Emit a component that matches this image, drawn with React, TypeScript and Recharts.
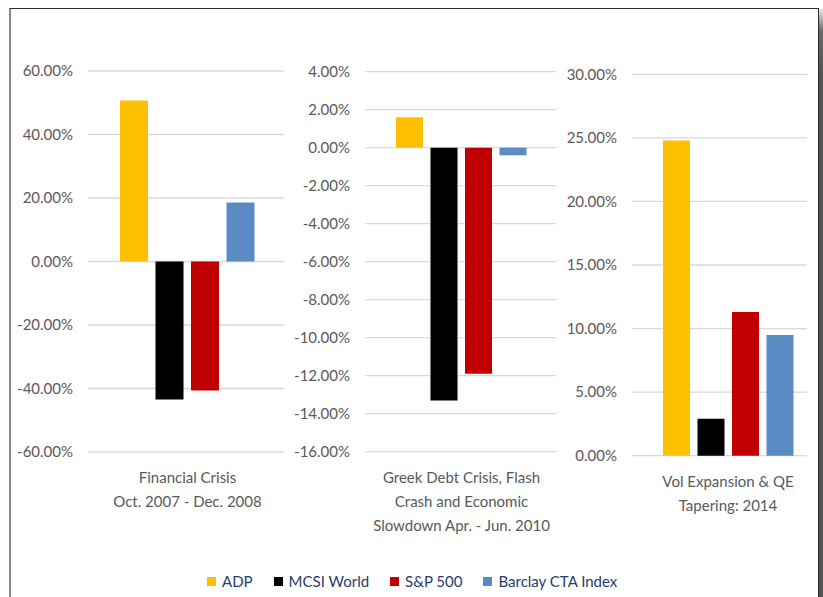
import React from "react";
import { BarChart, Bar, XAxis, YAxis, CartesianGrid } from "recharts";

const periods = [
  "Financial Crisis\nOct. 2007 - Dec. 2008",
  "Greek Debt Crisis, Flash\nCrash and Economic\nSlowdown Apr. - Jun. 2010",
  "Vol Expansion & QE\nTapering: 2014",
];
const adp = [50.7, 1.6, 24.8];
const mcsiWorld = [-43.5, -13.3, 2.9];
const sp500 = [-40.6, -11.9, 11.3];
const barclayCta = [18.6, -0.4, 9.5];

const ticksFinancial = [-60, -40, -20, 0, 20, 40, 60];
const ticksGreek = [-16, -14, -12, -10, -8, -6, -4, -2, 0, 2, 4];
const ticksVol = [0, 5, 10, 15, 20, 25, 30];
const panelTicks = [ticksFinancial, ticksGreek, ticksVol];

const seriesNames = ["ADP", "MCSI World", "S&P 500", "Barclay CTA Index"];
const seriesKeys = ["adp", "mcsi", "sp", "barclay"];
const seriesColors = ["#FFC000", "#000000", "#C00000", "#5B8BC5"];

const FONT = "Lato, 'Open Sans', sans-serif";
const TICK_COLOR = "#595959";

const panelData = periods.map((p, i) => [
  { name: p, adp: adp[i], mcsi: mcsiWorld[i], sp: sp500[i], barclay: barclayCta[i] },
]);

const layouts = [
  { left: 0, width: 300, top: 71, bottom: 452, yw: 88, right: 13, gridW: 196, barSize: 28, gap: 7.5 },
  { left: 280, width: 290, top: 71.7, bottom: 451.7, yw: 85, right: 12, gridW: 191, barSize: 27, gap: 7.5 },
  { left: 550, width: 280, top: 74.3, bottom: 455.7, yw: 82, right: 6, gridW: 175, barSize: 27, gap: 7.5 },
];

const H = 560;
const XH = 100;

function PeriodTick(props: any) {
  const { x, y, payload } = props;
  const lines = String(payload.value).split("\n");
  return (
    <text x={x} y={y} textAnchor="middle" fill={TICK_COLOR} fontSize={15} fontFamily={FONT}>
      {lines.map((l, i) => (
        <tspan key={i} x={x} y={y + 31 + i * 24}>
          {l}
        </tspan>
      ))}
    </text>
  );
}

function Panel({ idx }: { idx: number }) {
  const L = layouts[idx];
  const ticks = panelTicks[idx];
  return (
    <div style={{ position: "absolute", left: L.left, top: 0, width: L.width, height: H }}>
      <BarChart
        width={L.width}
        height={H}
        data={panelData[idx]}
        margin={{ top: L.top, right: L.right, left: 0, bottom: H - L.bottom - XH }}
        barGap={L.gap}
      >
        <CartesianGrid vertical={false} stroke="#d9d9d9" strokeWidth={1.3} width={L.gridW} />
        <XAxis
          dataKey="name"
          axisLine={false}
          tickLine={false}
          tickSize={0}
          tickMargin={0}
          height={XH}
          interval={0}
          tick={<PeriodTick />}
        />
        <YAxis
          type="number"
          domain={[ticks[0], ticks[ticks.length - 1]]}
          ticks={ticks}
          interval={0}
          width={L.yw}
          axisLine={false}
          tickLine={false}
          tickSize={0}
          tickMargin={15}
          tickFormatter={(v: number) => v.toFixed(2) + "%"}
          tick={{ fill: TICK_COLOR, fontSize: 15, fontFamily: FONT }}
        />
        {seriesKeys.map((k, i) => (
          <Bar
            key={k}
            dataKey={k}
            name={seriesNames[i]}
            fill={seriesColors[i]}
            barSize={L.barSize}
            isAnimationActive={false}
          />
        ))}
      </BarChart>
    </div>
  );
}

export default function App() {
  return (
    <div
      style={{
        position: "absolute",
        left: 0,
        top: 0,
        width: 823,
        height: 597,
        overflow: "hidden",
        background: "#fff",
        fontFamily: FONT,
      }}
    >
      <div
        style={{
          position: "absolute",
          left: 9,
          top: 8,
          width: 810,
          height: 600,
          boxSizing: "border-box",
          borderLeft: "2px solid #8a8a8a",
          borderTop: "1.5px solid #2a2a2a",
          borderRight: "1.5px solid #2a2a2a",
        }}
      />
      <div
        style={{
          position: "absolute",
          left: 819,
          top: 9,
          width: 4,
          height: 590,
          background: "linear-gradient(to bottom, #e8e8e8 0px, #6a6a6a 22px, #555 60px, #555 100%)",
        }}
      />
      {[0, 1, 2].map((i) => (
        <Panel key={i} idx={i} />
      ))}
      <div
        style={{
          position: "absolute",
          left: 207,
          top: 571,
          display: "flex",
          alignItems: "center",
          height: 20,
          fontSize: 15,
          color: "#263c6e",
          fontFamily: FONT,
          whiteSpace: "nowrap",
        }}
      >
        {seriesNames.map((n, i) => (
          <div key={n} style={{ display: "flex", alignItems: "center", marginRight: 21 }}>
            <div style={{ width: 9, height: 9, background: seriesColors[i], marginRight: 6 }} />
            <span>{n}</span>
          </div>
        ))}
      </div>
    </div>
  );
}
